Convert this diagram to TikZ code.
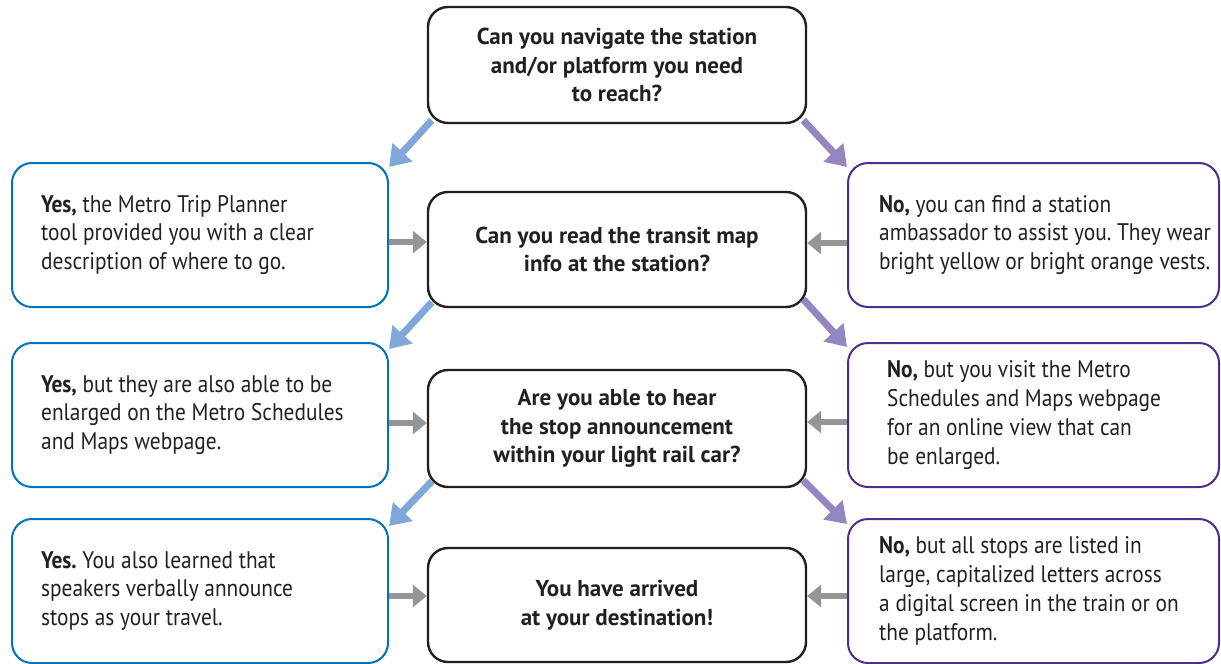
\documentclass[tikz,border=0pt]{standalone}
\usepackage{fontspec}
\setmainfont{PT Sans}[FakeStretch=0.89]
\newfontfamily\qfont{PT Sans}
\usetikzlibrary{arrows.meta}
\frenchspacing
\definecolor{ink}{HTML}{231F20}
\definecolor{yesline}{HTML}{0072BC}
\definecolor{noline}{HTML}{4F2D8C}
\definecolor{yesarrow}{HTML}{7FA7DA}
\definecolor{noarrow}{HTML}{9585C0}
\definecolor{grayarrow}{HTML}{939598}
\tikzset{
  qbox/.style={draw=ink, line width=2.4pt, rounded corners=20pt, minimum width=378pt, inner sep=0pt, fill=white},
  ybox/.style={draw=yesline, line width=2pt, rounded corners=20pt, minimum width=376pt, minimum height=144pt, inner sep=0pt},
  nbox/.style={draw=noline, line width=2pt, rounded corners=20pt, minimum width=371pt, minimum height=144pt, inner sep=0pt},
  qtxt/.style={align=center, text=ink, font=\qfont\fontsize{23}{28.5}\selectfont\bfseries\frenchspacing, inner sep=0pt},
  atxt/.style={align=left, text=ink, font=\fontsize{24}{28.8}\selectfont\frenchspacing, inner sep=0pt, anchor=west},
  yesarr/.style={draw=yesarrow, line width=7pt, -{Triangle[length=20pt,width=26pt]}},
  noarr/.style={draw=noarrow, line width=7pt, -{Triangle[length=20pt,width=26pt]}},
  grayarr/.style={draw=grayarrow, line width=6pt, -{Triangle[length=14pt,width=22pt]}}
}
\begin{document}
\begin{tikzpicture}[x=1pt,y=-1pt]
\useasboundingbox (0,0) rectangle (1221,664);
% question boxes
\node[qbox, minimum height=116pt] (c1) at (617,65) {};
\node[qbox, minimum height=115pt] (c2) at (617,249.5) {};
\node[qbox, minimum height=117pt] (c3) at (617,428.5) {};
\node[qbox, minimum height=114pt] (c4) at (617,605) {};
\node[qtxt] (c1t) at (c1) {Can you navigate the station\\and/or platform you need\\to reach?};
\node[qtxt] (c2t) at (c2) {Can you read the transit map\\info at the station?};
\node[qtxt] (c3t) at (c3) {Are you able to hear\\the stop announcement\\within your light rail car?};
\node[qtxt] (c4t) at (c4) {You have arrived\\at your destination!};
% yes boxes
\node[ybox] (y1) at (200,235) {};
\node[ybox] (y2) at (200,415) {};
\node[ybox] (y3) at (200,591) {};
\node[atxt] (y1t) at ([xshift=30pt]y1.west) {\textbf{Yes,} the Metro Trip Planner\\tool provided you with a clear\\description of where to go.};
\node[atxt] (y2t) at ([xshift=30pt]y2.west) {\textbf{Yes,} but they are also able to be\\enlarged on the Metro Schedules\\and Maps webpage.};
\node[atxt] (y3t) at ([xshift=30pt]y3.west) {\textbf{Yes.} You also learned that\\speakers verbally announce\\stops as your travel.};
% no boxes
\node[nbox] (n1) at (1033.5,235) {};
\node[nbox] (n2) at (1033.5,415) {};
\node[nbox] (n3) at (1033.5,591) {};
\node[atxt] (n1t) at ([xshift=32pt]n1.west) {\textbf{No,} you can find a station\\ambassador to assist you. They wear\\bright yellow or bright orange vests.};
\node[atxt] (n2t) at ([xshift=40pt]n2.west) {\textbf{No,} but you visit the Metro\\Schedules and Maps webpage\\for an online view that can\\be enlarged.};
\node[atxt] (n3t) at ([xshift=32pt]n3.west) {\textbf{No,} but all stops are listed in\\large, capitalized letters across\\a digital screen in the train or on\\the platform.};
% diagonal arrows
\draw[yesarr] ([shift={(5pt,4pt)}]c1.south west) -- ([yshift=-5pt]y1.north east);
\draw[noarr] ([shift={(-4pt,4pt)}]c1.south east) -- ([yshift=-5pt]n1.north west);
\draw[yesarr] ([shift={(5pt,6pt)}]c2.south west) -- ([yshift=-7pt]y2.north east);
\draw[noarr] ([shift={(-4pt,9pt)}]c2.south east) -- ([yshift=-5pt]n2.north west);
\draw[yesarr] ([shift={(5pt,7pt)}]c3.south west) -- ([yshift=-8pt]y3.north east);
\draw[noarr] ([shift={(-4pt,8pt)}]c3.south east) -- ([yshift=-6pt]n3.north west);
% horizontal arrows
\coordinate (g1) at ([yshift=-7pt]y1.east);
\coordinate (g2) at ([yshift=-8pt]y2.east);
\coordinate (g3) at ([yshift=-5pt]y3.east);
\coordinate (h1) at ([yshift=-8pt]n1.west);
\coordinate (h2) at ([yshift=-7pt]n2.west);
\coordinate (h3) at ([yshift=-5pt]n3.west);
\draw[grayarr] (g1) -- (g1 -| c2.west);
\draw[grayarr] (g2) -- (g2 -| c3.west);
\draw[grayarr] (g3) -- (g3 -| c4.west);
\draw[grayarr] (h1) -- (h1 -| c2.east);
\draw[grayarr] (h2) -- (h2 -| c3.east);
\draw[grayarr] (h3) -- (h3 -| c4.east);
\end{tikzpicture}
\end{document}
